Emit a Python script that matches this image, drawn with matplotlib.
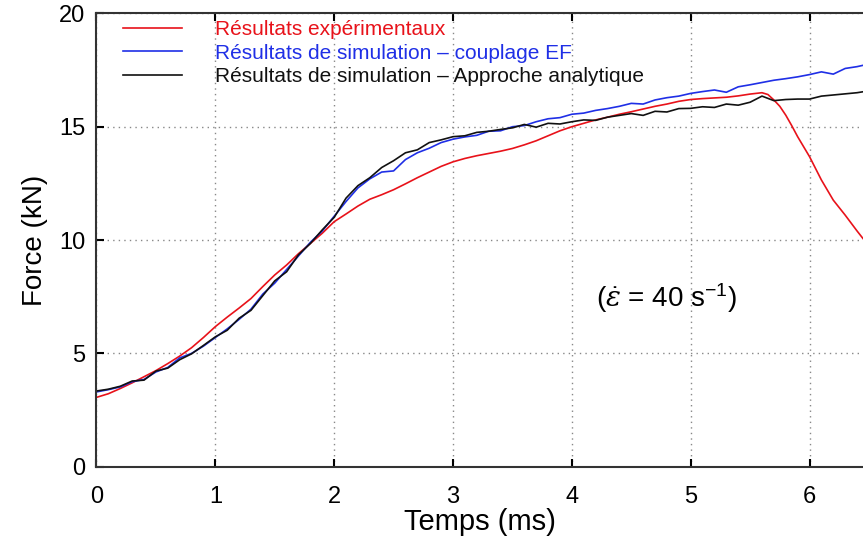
import matplotlib.pyplot as plt
import numpy as np

plt.rcParams['font.family'] = ['Liberation Sans', 'DejaVu Sans']
plt.rcParams['mathtext.fontset'] = 'custom'
plt.rcParams['mathtext.rm'] = 'Liberation Sans'
plt.rcParams['mathtext.it'] = 'DejaVu Serif:italic'

# time (ms), sampled every 0.1 ms
t = [0.0, 0.1, 0.2, 0.3, 0.4, 0.5, 0.6, 0.7, 0.8, 0.9,
     1.0, 1.1, 1.2, 1.3, 1.4, 1.5, 1.6, 1.7, 1.8, 1.9,
     2.0, 2.1, 2.2, 2.3, 2.4, 2.5, 2.6, 2.7, 2.8, 2.9,
     3.0, 3.1, 3.2, 3.3, 3.4, 3.5, 3.6, 3.7, 3.8, 3.9,
     4.0, 4.1, 4.2, 4.3, 4.4, 4.5, 4.6, 4.7, 4.8, 4.9,
     5.0, 5.1, 5.2, 5.3, 5.4, 5.5, 5.6, 5.7, 5.8, 5.9,
     6.0, 6.1, 6.2, 6.3, 6.4, 6.46]

# simulation - analytic approach (black)
f_analytic = [3.34, 3.42, 3.55, 3.78, 3.82, 4.22, 4.35, 4.72, 4.98, 5.35,
              5.73, 6.02, 6.55, 6.90, 7.55, 8.20, 8.60, 9.35, 9.85, 10.45,
              11.00, 11.85, 12.40, 12.75, 13.20, 13.50, 13.85, 13.98, 14.30, 14.42,
              14.56, 14.60, 14.75, 14.80, 14.88, 14.95, 15.10, 14.98, 15.15, 15.12,
              15.22, 15.30, 15.28, 15.42, 15.50, 15.58, 15.50, 15.68, 15.65, 15.80,
              15.81, 15.88, 15.85, 16.00, 15.95, 16.08, 16.35, 16.15, 16.20, 16.22,
              16.22, 16.35, 16.40, 16.45, 16.50, 16.55]

# simulation - FE coupling (blue)
f_fe = [3.30, 3.40, 3.52, 3.75, 3.85, 4.18, 4.38, 4.80, 5.00, 5.32,
        5.70, 6.08, 6.50, 6.95, 7.62, 8.10, 8.70, 9.30, 9.90, 10.40,
        11.05, 11.70, 12.30, 12.70, 13.00, 13.05, 13.55, 13.85, 14.05, 14.30,
        14.45, 14.55, 14.62, 14.80, 14.82, 15.00, 15.05, 15.22, 15.35, 15.40,
        15.55, 15.60, 15.72, 15.80, 15.90, 16.03, 16.00, 16.18, 16.28, 16.35,
        16.47, 16.55, 16.62, 16.52, 16.76, 16.85, 16.95, 17.05, 17.12, 17.20,
        17.30, 17.42, 17.32, 17.57, 17.65, 17.72]

# experimental (red)
t_exp = [0.0, 0.1, 0.2, 0.3, 0.4, 0.5, 0.6, 0.7, 0.8, 0.9,
         1.0, 1.1, 1.2, 1.3, 1.4, 1.5, 1.6, 1.7, 1.8, 1.9,
         2.0, 2.1, 2.2, 2.3, 2.4, 2.5, 2.6, 2.7, 2.8, 2.9,
         3.0, 3.1, 3.2, 3.3, 3.4, 3.5, 3.6, 3.7, 3.8, 3.9,
         4.0, 4.1, 4.2, 4.3, 4.4, 4.5, 4.6, 4.7, 4.8, 4.9,
         5.0, 5.1, 5.2, 5.3, 5.4, 5.5, 5.6, 5.65, 5.7, 5.75,
         5.8, 5.85, 5.9, 6.0, 6.1, 6.2, 6.3, 6.4, 6.46]
f_exp = [3.06, 3.22, 3.45, 3.70, 3.97, 4.24, 4.55, 4.88, 5.25, 5.70,
         6.18, 6.60, 7.00, 7.42, 7.95, 8.46, 8.90, 9.40, 9.85, 10.30,
         10.81, 11.15, 11.50, 11.80, 12.00, 12.22, 12.48, 12.75, 13.00, 13.25,
         13.45, 13.60, 13.72, 13.82, 13.92, 14.04, 14.20, 14.38, 14.60, 14.82,
         15.00, 15.15, 15.30, 15.42, 15.55, 15.66, 15.78, 15.90, 16.00, 16.12,
         16.20, 16.24, 16.27, 16.30, 16.36, 16.44, 16.50, 16.42, 16.18, 15.90,
         15.51, 15.05, 14.56, 13.68, 12.65, 11.76, 11.10, 10.40, 10.00]

labels = ['Résultats expérimentaux',
          'Résultats de simulation – couplage EF',
          'Résultats de simulation – Approche analytique']
colors = ['#e8121a', '#1f2fe6', '#111111']

fig = plt.figure(figsize=(8.63, 5.46), dpi=100)
ax = fig.add_axes([0.1118, 0.1452, 0.8882, 0.8303])

ax.plot(t_exp, f_exp, color=colors[0], lw=1.2, label=labels[0])
ax.plot(t, f_fe, color=colors[1], lw=1.2, label=labels[1])
ax.plot(t, f_analytic, color=colors[2], lw=1.2, label=labels[2])

ax.set_xlim(0, 6.45)
ax.set_ylim(0, 20)
ax.set_xticks(np.arange(0, 7, 1))
ax.set_yticks(np.arange(0, 21, 5))

ax.grid(True, linestyle=(0, (1, 3)), linewidth=1.0, color='#888888')
ax.tick_params(direction='in', length=6, width=1.5, labelsize=17, top=True,
               right=False)
ax.tick_params(axis='x', pad=14)
ax.tick_params(axis='y', pad=8)
for s in ['left', 'bottom', 'top']:
    ax.spines[s].set_linewidth(1.5)
    ax.spines[s].set_color('#333333')
ax.spines['right'].set_visible(False)

ax.set_xlabel('Temps (ms)', fontsize=21, labelpad=0)
ax.set_ylabel('Force (kN)', fontsize=20, labelpad=8)

ax.text(4.8, 7.45, r'($\dot{\varepsilon}$ = 40 s$^{\mathrm{-1}}$)', fontsize=20,
        ha='center', va='center')

ax.legend(loc='upper left', bbox_to_anchor=(0.035, 0.985), frameon=False,
          fontsize=15, handlelength=2.8, handletextpad=1.6, labelspacing=0.22,
          borderpad=0, borderaxespad=0, labelcolor='linecolor')

fig.savefig('out.png', dpi=100)
